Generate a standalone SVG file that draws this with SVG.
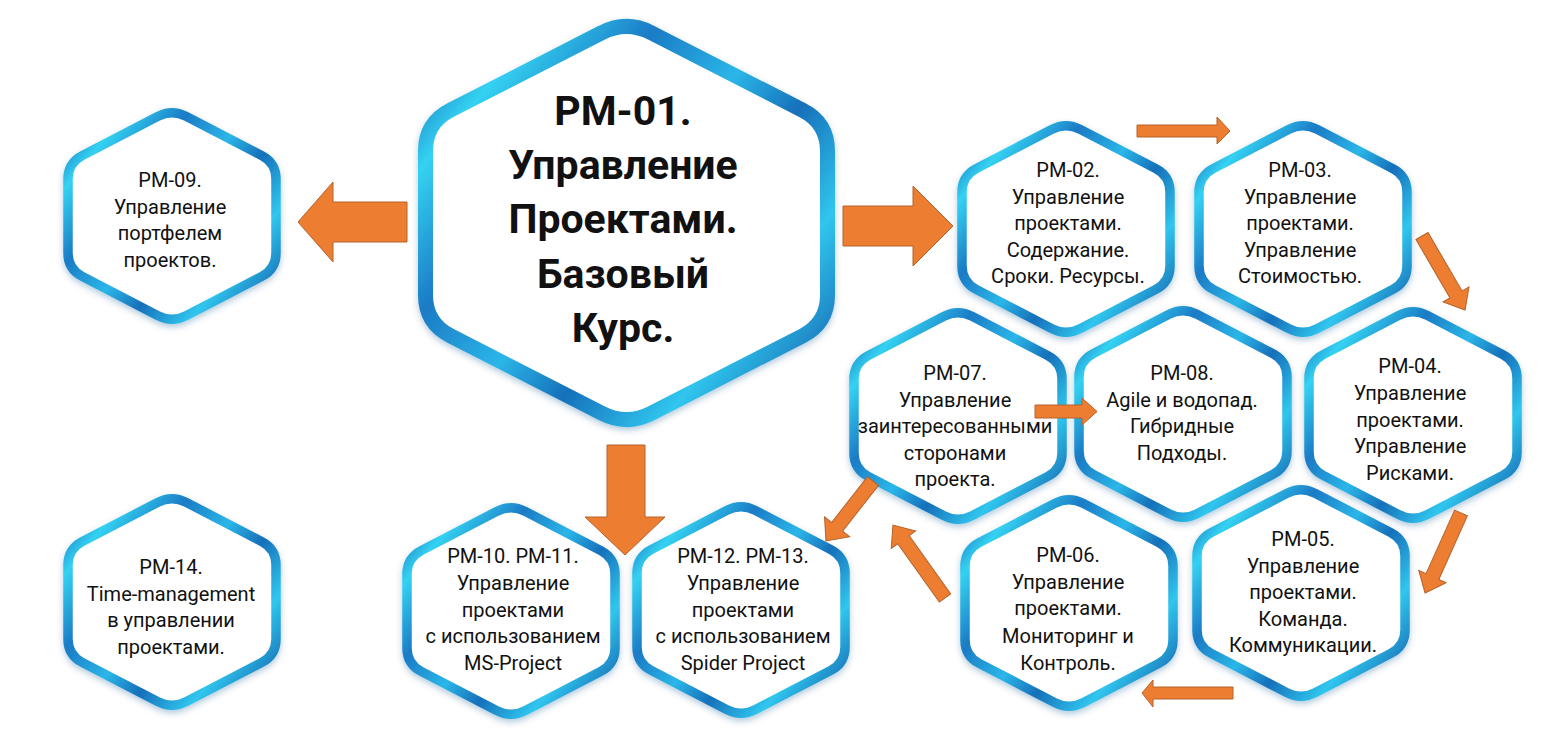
<svg xmlns="http://www.w3.org/2000/svg" width="1542" height="738" viewBox="0 0 1542 738">
<defs>
<linearGradient id="g" x1="0" y1="0.1" x2="1" y2="0.9">
<stop offset="0" stop-color="#1A78C2"/>
<stop offset="0.12" stop-color="#34D2F2"/>
<stop offset="0.3" stop-color="#1B7BC5"/>
<stop offset="0.48" stop-color="#2BB6E8"/>
<stop offset="0.62" stop-color="#1670BA"/>
<stop offset="0.8" stop-color="#30C6EE"/>
<stop offset="1" stop-color="#1565B0"/>
</linearGradient>
<filter id="sh" x="-15%" y="-15%" width="130%" height="130%">
<feDropShadow dx="0" dy="3" stdDeviation="3" flood-color="#0a4f8a" flood-opacity="0.3"/>
</filter>
<path id="hs" d="M -14.2,-99.6 Q 0,-107 14.2,-99.6 L 89.8,-60.4 Q 104,-53 104,-37 L 104,37 Q 104,53 89.8,60.4 L 14.2,99.6 Q 0,107 -14.2,99.6 L -89.8,60.4 Q -104,53 -104,37 L -104,-37 Q -104,-53 -89.8,-60.4 Z"/>
<path id="hb" d="M -24.9,-190.2 Q 0,-203 24.9,-190.2 L 176.1,-112.8 Q 201,-100 201,-72 L 201,72 Q 201,100 176.1,112.8 L 24.9,190.2 Q 0,203 -24.9,190.2 L -176.1,112.8 Q -201,100 -201,72 L -201,-72 Q -201,-100 -176.1,-112.8 Z"/>
</defs>
<style>
.hx{fill:#fff;stroke:url(#g);stroke-width:9.5;stroke-linejoin:round;filter:url(#sh)}
.hxb{stroke-width:15}
.t{font-family:Roboto,"Liberation Sans",sans-serif;font-size:20px;fill:#111;text-anchor:middle}
.tb{font-weight:bold;font-size:41px}
.ar{fill:#ED7D31;stroke:#B5622A;stroke-width:1}
</style>
<rect width="1542" height="738" fill="#fff"/>

<g id="pm01">
<use href="#hb" class="hx hxb" transform="translate(626.5,223)"/>
<text class="t tb"><tspan x="623" y="125">PM-01.</tspan><tspan x="623" y="179">Управление</tspan><tspan x="623" y="233">Проектами.</tspan><tspan x="623" y="288">Базовый</tspan><tspan x="623" y="342">Курс.</tspan></text>
</g>

<g id="pm09">
<use href="#hs" class="hx" transform="translate(172,216)"/>
<text class="t"><tspan x="170" y="187">PM-09.</tspan><tspan x="170" y="213.7">Управление</tspan><tspan x="170" y="240.3">портфелем</tspan><tspan x="170" y="267">проектов.</tspan></text>
</g>

<g id="pm14">
<use href="#hs" class="hx" transform="translate(172,602)"/>
<text class="t"><tspan x="171" y="574">PM-14.</tspan><tspan x="171" y="600.5">Time-management</tspan><tspan x="171" y="627">в управлении</tspan><tspan x="171" y="653.5">проектами.</tspan></text>
</g>

<g id="pm10-11">
<use href="#hs" class="hx" transform="translate(511,611)"/>
<text class="t"><tspan x="513" y="563">PM-10. PM-11.</tspan><tspan x="513" y="590">Управление</tspan><tspan x="513" y="617">проектами</tspan><tspan x="513" y="643">с использованием</tspan><tspan x="513" y="670">MS-Project</tspan></text>
</g>

<g id="pm12-13">
<use href="#hs" class="hx" transform="translate(741,610)"/>
<text class="t"><tspan x="743" y="563">PM-12. PM-13.</tspan><tspan x="743" y="590">Управление</tspan><tspan x="743" y="617">проектами</tspan><tspan x="743" y="643">с использованием</tspan><tspan x="743" y="670">Spider Project</tspan></text>
</g>

<g id="pm02">
<use href="#hs" class="hx" transform="translate(1066,229)"/>
<text class="t"><tspan x="1068" y="177">PM-02.</tspan><tspan x="1068" y="203.5">Управление</tspan><tspan x="1068" y="230">проектами.</tspan><tspan x="1068" y="256.5">Содержание.</tspan><tspan x="1068" y="283">Сроки. Ресурсы.</tspan></text>
</g>

<g id="pm03">
<use href="#hs" class="hx" transform="translate(1303,229)"/>
<text class="t"><tspan x="1300" y="177">PM-03.</tspan><tspan x="1300" y="203.5">Управление</tspan><tspan x="1300" y="230">проектами.</tspan><tspan x="1300" y="256.5">Управление</tspan><tspan x="1300" y="283">Стоимостью.</tspan></text>
</g>

<g id="pm07">
<use href="#hs" class="hx" transform="translate(958,416)"/>
<text class="t"><tspan x="955" y="380">PM-07.</tspan><tspan x="955" y="407">Управление</tspan><tspan x="955" y="433">заинтересованными</tspan><tspan x="955" y="460">сторонами</tspan><tspan x="955" y="486">проекта.</tspan></text>
</g>

<g id="pm08">
<use href="#hs" class="hx" transform="translate(1183,414)"/>
<text class="t"><tspan x="1182" y="380">PM-08.</tspan><tspan x="1182" y="407">Agile и водопад.</tspan><tspan x="1182" y="433">Гибридные</tspan><tspan x="1182" y="460">Подходы.</tspan></text>
</g>

<g id="pm04">
<use href="#hs" class="hx" transform="translate(1413,415)"/>
<text class="t"><tspan x="1410" y="373">PM-04.</tspan><tspan x="1410" y="400">Управление</tspan><tspan x="1410" y="427">проектами.</tspan><tspan x="1410" y="453">Управление</tspan><tspan x="1410" y="480">Рисками.</tspan></text>
</g>

<g id="pm06">
<use href="#hs" class="hx" transform="translate(1069,603)"/>
<text class="t"><tspan x="1068" y="562">PM-06.</tspan><tspan x="1068" y="588.5">Управление</tspan><tspan x="1068" y="615">проектами.</tspan><tspan x="1068" y="643">Мониторинг и</tspan><tspan x="1068" y="670">Контроль.</tspan></text>
</g>

<g id="pm05">
<use href="#hs" class="hx" transform="translate(1301,593)"/>
<text class="t"><tspan x="1303" y="546">PM-05.</tspan><tspan x="1303" y="572.5">Управление</tspan><tspan x="1303" y="599">проектами.</tspan><tspan x="1303" y="625.5">Команда.</tspan><tspan x="1303" y="652">Коммуникации.</tspan></text>
</g>

<g id="connectors">
<polygon class="ar" points="298,222 333,182 333,202 407,202 407,242 333,242 333,262"/>
<polygon class="ar" points="843,206 913,206 913,186 953,226 913,266 913,246 843,246"/>
<polygon class="ar" points="607,445 645,445 645,517 665,517 625,555 585,517 607,517"/>
<polygon class="ar" points="1137,125 1217,125 1217,117 1230,131 1217,144 1217,137 1137,137"/>
<polygon class="ar" points="1035,405 1082,405 1082,398 1097,411.5 1082,425 1082,418 1035,418"/>
<polygon class="ar" points="1233,687 1153,687 1153,680 1142,693 1153,707 1153,699 1233,699"/>
<polygon class="ar" points="0,-7 67.6,-7 67.6,-15 85.6,0 67.6,15 67.6,7 0,7" transform="translate(1422,236) rotate(59.8)"/>
<polygon class="ar" points="0,-7 69.7,-7 69.7,-15 87.7,0 69.7,15 69.7,7 0,7" transform="translate(1461,513) rotate(114.2)"/>
<polygon class="ar" points="0,-7 71.6,-7 71.6,-15 89.6,0 71.6,15 71.6,7 0,7" transform="translate(945,598) rotate(-125.5)"/>
<polygon class="ar" points="0,-7 58.2,-7 58.2,-16 76.2,0 58.2,16 58.2,7 0,7" transform="translate(873,481) rotate(128.1)"/>
</g>
</svg>
